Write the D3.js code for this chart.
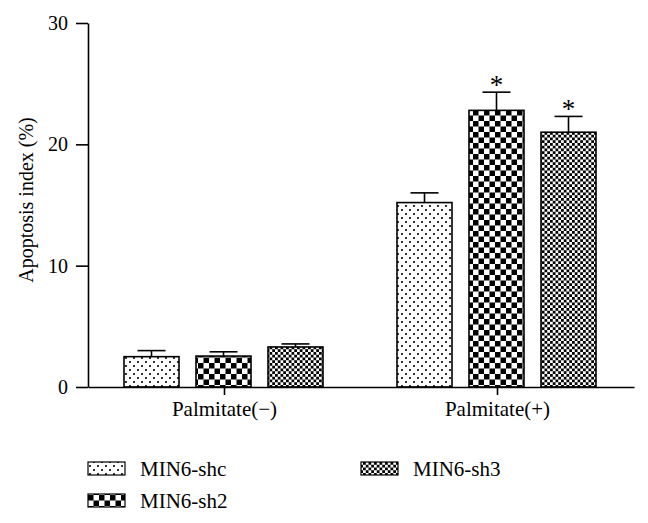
<!DOCTYPE html>
<html><head><meta charset="utf-8">
<script src="https://cdn.jsdelivr.net/npm/d3@7"></script>
<style>body{margin:0;background:#fff}svg{display:block}</style>
</head><body>
<svg id="c" width="648" height="523"></svg>
<script>
const categories = ["Palmitate(\u2212)", "Palmitate(+)"];
const series = ["MIN6-shc", "MIN6-sh2", "MIN6-sh3"];
const meanShc = [2.5, 15.2];
const meanSh2 = [2.55, 22.8];
const meanSh3 = [3.3, 21.0];
const errShc = [0.5, 0.8];
const errSh2 = [0.35, 1.5];
const errSh3 = [0.25, 1.3];
const starShc = [false, false];
const starSh2 = [false, true];
const starSh3 = [false, true];
const yTicks = [0, 10, 20, 30];

(function(){
const means = [meanShc, meanSh2, meanSh3];
const errs = [errShc, errSh2, errSh3];
const stars = [starShc, starSh2, starSh3];
const data = [];
categories.forEach((c, ci) => series.forEach((s, si) => data.push({c, s, v: means[si][ci], e: errs[si][ci], star: stars[si][ci]})));

const svg = d3.select("#c");
const font = "'Liberation Serif', 'Times New Roman', serif";
const defs = svg.append("defs");
const p1 = defs.append("pattern").attr("id", "pShc").attr("patternUnits", "userSpaceOnUse").attr("width", 8).attr("height", 8);
p1.append("rect").attr("width", 8).attr("height", 8).attr("fill", "#fff");
p1.append("circle").attr("cx", 2).attr("cy", 2).attr("r", 1.05).attr("fill", "#000");
p1.append("circle").attr("cx", 6).attr("cy", 6).attr("r", 1.05).attr("fill", "#000");
const p2 = defs.append("pattern").attr("id", "pSh2").attr("patternUnits", "userSpaceOnUse").attr("width", 11).attr("height", 11);
p2.append("rect").attr("width", 11).attr("height", 11).attr("fill", "#fff");
p2.append("rect").attr("width", 5.5).attr("height", 5.5).attr("fill", "#000");
p2.append("rect").attr("x", 5.5).attr("y", 5.5).attr("width", 5.5).attr("height", 5.5).attr("fill", "#000");
const p3 = defs.append("pattern").attr("id", "pSh3").attr("patternUnits", "userSpaceOnUse").attr("width", 5.5).attr("height", 5.5);
p3.append("rect").attr("width", 5.5).attr("height", 5.5).attr("fill", "#fff");
p3.append("rect").attr("width", 2.75).attr("height", 2.75).attr("fill", "#000");
p3.append("rect").attr("x", 2.75).attr("y", 2.75).attr("width", 2.75).attr("height", 2.75).attr("fill", "#000");
const fills = {"MIN6-shc": "url(#pShc)", "MIN6-sh2": "url(#pSh2)", "MIN6-sh3": "url(#pSh3)"};

const mL = 88, mR = 634, mT = 23, mB = 387;
const x0 = d3.scaleBand().domain(categories).range([mL, mR]).paddingInner(0).paddingOuter(0);
const x1 = d3.scaleBand().domain(series).range([36, 235]).paddingInner(17 / 72).paddingOuter(0);
const y = d3.scaleLinear().domain([0, 30]).range([mB, mT]);

const g = svg.append("g");
g.selectAll("rect.bar").data(data).enter().append("rect")
  .attr("x", d => x0(d.c) + x1(d.s))
  .attr("y", d => y(d.v))
  .attr("width", x1.bandwidth())
  .attr("height", d => y(0) - y(d.v))
  .attr("fill", d => fills[d.s])
  .attr("stroke", "#000").attr("stroke-width", 1.6);
const cap = 28;
data.forEach(d => {
  const cx = x0(d.c) + x1(d.s) + x1.bandwidth() / 2;
  g.append("line").attr("x1", cx).attr("x2", cx).attr("y1", y(d.v)).attr("y2", y(d.v + d.e)).attr("stroke", "#000").attr("stroke-width", 1.6);
  g.append("line").attr("x1", cx - cap / 2).attr("x2", cx + cap / 2).attr("y1", y(d.v + d.e)).attr("y2", y(d.v + d.e)).attr("stroke", "#000").attr("stroke-width", 1.6);
  if (d.star) g.append("text").attr("x", cx).attr("y", y(d.v + d.e) + 2).attr("text-anchor", "middle")
    .attr("font-family", font).attr("font-size", 27).text("*");
});

const ya = svg.append("g").attr("transform", `translate(${mL},0)`)
  .call(d3.axisLeft(y).tickValues(yTicks).tickSize(12).tickPadding(8).tickSizeOuter(0));
ya.select(".domain").attr("stroke-width", 1.6);
ya.selectAll(".tick line").attr("stroke-width", 1.6);
ya.selectAll("text").attr("font-family", font).attr("font-size", 20).attr("fill", "#000");

const xa = svg.append("g").attr("transform", `translate(0,${mB})`)
  .call(d3.axisBottom(x0).tickSize(8).tickPadding(6).tickSizeOuter(0));
xa.select(".domain").attr("stroke-width", 1.6);
xa.selectAll(".tick line").attr("stroke-width", 1.6);
xa.selectAll("text").attr("font-family", font).attr("font-size", 21).attr("fill", "#000");

svg.append("text").attr("transform", "translate(33,200) rotate(-90)").attr("text-anchor", "middle")
  .attr("font-family", font).attr("font-size", 20).text("Apoptosis index (%)");

const legPos = {"MIN6-shc": [88, 462], "MIN6-sh2": [88, 494], "MIN6-sh3": [361, 462]};
series.forEach(s => {
  const [lx, ly] = legPos[s];
  svg.append("rect").attr("x", lx).attr("y", ly).attr("width", 37).attr("height", 13)
    .attr("fill", fills[s]).attr("stroke", "#000").attr("stroke-width", 1.2);
  svg.append("text").attr("x", lx + 52).attr("y", ly + 14).attr("font-family", font).attr("font-size", 21).text(s);
});
})();
</script>
</body></html>
